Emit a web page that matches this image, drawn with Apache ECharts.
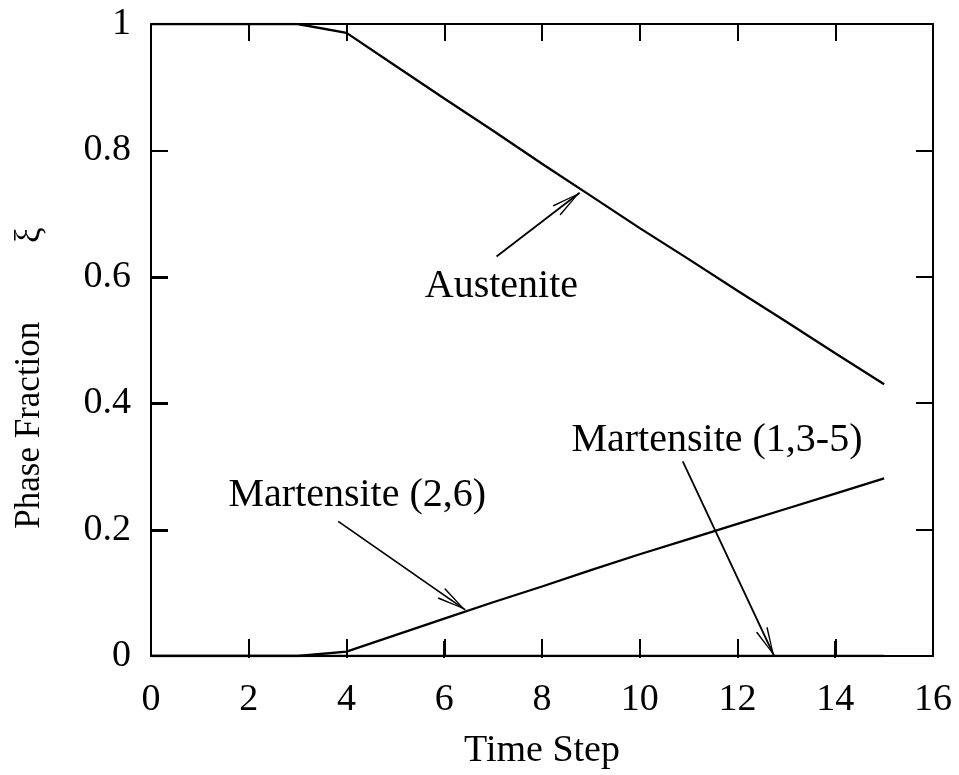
<!DOCTYPE html>
<html>
<head>
<meta charset="utf-8">
<script src="https://cdn.jsdelivr.net/npm/echarts@6/dist/echarts.min.js"></script>
<style>html,body{margin:0;padding:0;background:#fff;}#chart{width:959px;height:775px;}</style>
</head>
<body>
<div id="chart"></div>
<script>
const timeSteps = [0,1,2,3,4,5,6,7,8,9,10,11,12,13,14,15];
const austenite = [1,1,1,1,0.986,0.934,0.882,0.831,0.779,0.728,0.677,0.628,0.578,0.529,0.479,0.43];
const martensite26 = [0,0,0,0,0.007,0.033,0.059,0.085,0.11,0.136,0.161,0.185,0.209,0.233,0.257,0.281];
const martensite135 = [0,0,0,0,0,0,0,0,0,0,0,0,0,0,0,0];

const annotationLabels = ['Austenite','Martensite (2,6)','Martensite (1,3-5)'];
const labelAnchors = [[7.17,0.584],[4.22,0.254],[11.58,0.341]];
const arrowStarts = [[7.07,0.632],[3.83,0.213],[10.88,0.308]];
const arrowEnds = [[8.77,0.733],[6.43,0.073],[12.75,0]];

const xMin = 0, xMax = 16, xInterval = 2;
const yMin = 0, yMax = 1, yInterval = 0.2;

const FONT = 'Liberation Serif';
const TICK_LEN = 17;
const GRID = {left:151, top:24, right:26, bottom:117};
const W = 959, H = 775;
const PLOT_W = W - GRID.left - GRID.right;
const PLOT_H = H - GRID.top - GRID.bottom;
const chevron = 'path://M10,-20 L10.02,-19.98 L9.98,-19.98 Z M10,0 L20,20 L17.6,20 L10,3.5 L2.4,20 L0,20 Z';

function pairs(vals){ return timeSteps.map((t,i)=>[t, vals[i]]); }

// inward tick marks for the bottom and left frame edges (axis decoration)
function tickElements(){
  const els = [];
  const baseY = GRID.top + PLOT_H;
  const baseX = GRID.left;
  const nX = Math.round((xMax - xMin) / xInterval);
  for (let i = 1; i < nX; i++) {
    const px = Math.round(GRID.left + i * xInterval / (xMax - xMin) * PLOT_W);
    els.push({type:'rect', silent:true, z:100,
      shape:{x:px - 1, y:baseY - TICK_LEN, width:2, height:TICK_LEN},
      style:{fill:'#000'}});
  }
  const nY = Math.round((yMax - yMin) / yInterval);
  for (let i = 1; i < nY; i++) {
    const py = Math.round(GRID.top + PLOT_H - i * yInterval / (yMax - yMin) * PLOT_H);
    els.push({type:'rect', silent:true, z:100,
      shape:{x:baseX, y:py - 1, width:TICK_LEN, height:2},
      style:{fill:'#000'}});
  }
  return els;
}

const chart = echarts.init(document.getElementById('chart'), null, {renderer:'canvas', width:W, height:H});

function axisBase(extra){
  return Object.assign({
    type:'value',
    axisLine:{show:true, onZero:false, lineStyle:{color:'#000', width:2}},
    axisTick:{show:true, inside:true, length:TICK_LEN, lineStyle:{color:'#000', width:2}},
    minorTick:{show:false},
    splitLine:{show:false}
  }, extra);
}

const option = {
  animation:false,
  backgroundColor:'#fff',
  grid:Object.assign({containLabel:false}, GRID),
  graphic:tickElements(),
  xAxis:[
    axisBase({
      position:'bottom', min:xMin, max:xMax, interval:xInterval,
      axisLabel:{show:true, color:'#000', fontFamily:FONT, fontSize:38, margin:25},
      name:'Time Step', nameLocation:'middle', nameGap:76,
      nameTextStyle:{color:'#000', fontFamily:FONT, fontSize:38}
    }),
    axisBase({
      position:'top', min:xMin, max:xMax, interval:xInterval,
      axisLabel:{show:false}
    })
  ],
  yAxis:[
    axisBase({
      position:'left', min:yMin, max:yMax, interval:yInterval,
      axisLabel:{show:true, color:'#000', fontFamily:FONT, fontSize:38, margin:20},
      name:'Phase Fraction\u2003\u2003 \u03BE', nameLocation:'middle', nameGap:104, nameRotate:90,
      nameTextStyle:{color:'#000', fontFamily:FONT, fontSize:35, padding:[0,76,0,0]}
    }),
    axisBase({
      position:'right', min:yMin, max:yMax, interval:yInterval,
      axisLabel:{show:false}
    })
  ],
  series:[
    {
      name:'Martensite (1,3-5)', type:'line', data:pairs(martensite135),
      showSymbol:false, lineStyle:{color:'#000', width:2.3}, z:3
    },
    {
      name:'Martensite (2,6)', type:'line', data:pairs(martensite26),
      showSymbol:false, lineStyle:{color:'#000', width:2.3}, z:3
    },
    {
      name:'Austenite', type:'line', data:pairs(austenite),
      showSymbol:false, lineStyle:{color:'#000', width:2.3}, z:3,
      markLine:{
        silent:true, animation:false,
        symbol:['none', chevron], symbolSize:[13, 58],
        lineStyle:{color:'#000', width:1.8, type:'solid'},
        itemStyle:{color:'#000'},
        label:{show:false},
        emphasis:{disabled:true},
        data: arrowStarts.map((s,i)=>[{coord:s},{coord:arrowEnds[i]}])
      },
      markPoint:{
        silent:true, symbol:'circle', symbolSize:0,
        label:{show:true, position:'inside', color:'#000', fontFamily:FONT, fontSize:40,
               formatter:p=>p.name},
        itemStyle:{color:'transparent'},
        data: annotationLabels.map((n,i)=>({name:n, coord:labelAnchors[i], value:n}))
      }
    }
  ]
};
chart.setOption(option);
</script>
</body>
</html>
